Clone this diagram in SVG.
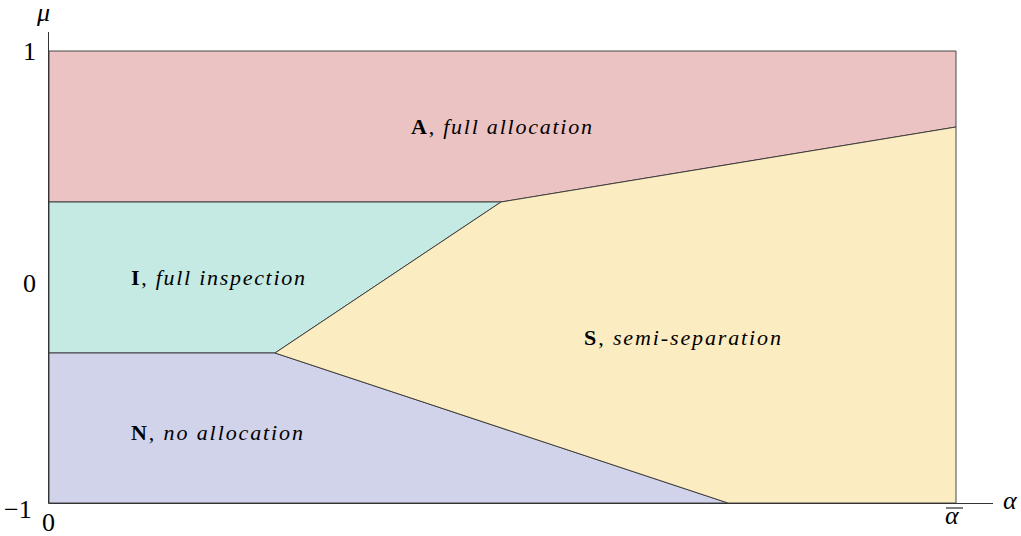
<svg xmlns="http://www.w3.org/2000/svg" width="1021" height="536" viewBox="0 0 1021 536">
<style>
.r{stroke:#333;stroke-width:0.9;stroke-linejoin:round}
.b{stroke:#333;stroke-width:1;fill:none}
text{font-family:"Liberation Serif","DejaVu Serif",serif;font-size:22px;fill:#000}
.ax{font-size:26px}
.i{font-style:italic}
.bf{font-weight:bold}
</style>
<rect width="1021" height="536" fill="#fff"/>
<g id="regionA"><polygon class="r" fill="#ebc3c3" points="49,51 956,51 956,127 501,202 49,202"/>
<text x="411" y="134" textLength="181" lengthAdjust="spacing"><tspan class="bf">A</tspan>, <tspan class="i">full allocation</tspan></text></g>
<g id="regionI"><polygon class="r" fill="#c5eae3" points="49,202 501,202 275,353 49,353"/>
<text x="131" y="285" textLength="174" lengthAdjust="spacing"><tspan class="bf">I</tspan>, <tspan class="i">full inspection</tspan></text></g>
<g id="regionN"><polygon class="r" fill="#d1d3ea" points="49,353 275,353 728,503 49,503"/>
<text x="131" y="440" textLength="172" lengthAdjust="spacing"><tspan class="bf">N</tspan>, <tspan class="i">no allocation</tspan></text></g>
<g id="regionS"><polygon class="r" fill="#fbedc1" points="501,202 956,127 956,503 728,503 275,353"/>
<text x="584" y="345" textLength="197" lengthAdjust="spacing"><tspan class="bf">S</tspan>, <tspan class="i">semi-separation</tspan></text></g>
<g id="axes">
<line class="b" x1="48.5" y1="32" x2="48.5" y2="503.5"/>
<line class="b" x1="48.5" y1="503.5" x2="993" y2="503.5"/>
<text class="ax i" x="37" y="21">μ</text>
<text class="ax" x="23" y="60">1</text>
<text class="ax" x="23" y="292">0</text>
<text class="ax" x="4" y="518">−1</text>
<text class="ax" x="42" y="531">0</text>
<text class="ax i" x="945" y="524">α</text>
<line x1="946" y1="508" x2="963" y2="508" stroke="#000" stroke-width="1"/>
<text class="ax i" x="1003" y="509">α</text>
</g>
</svg>
